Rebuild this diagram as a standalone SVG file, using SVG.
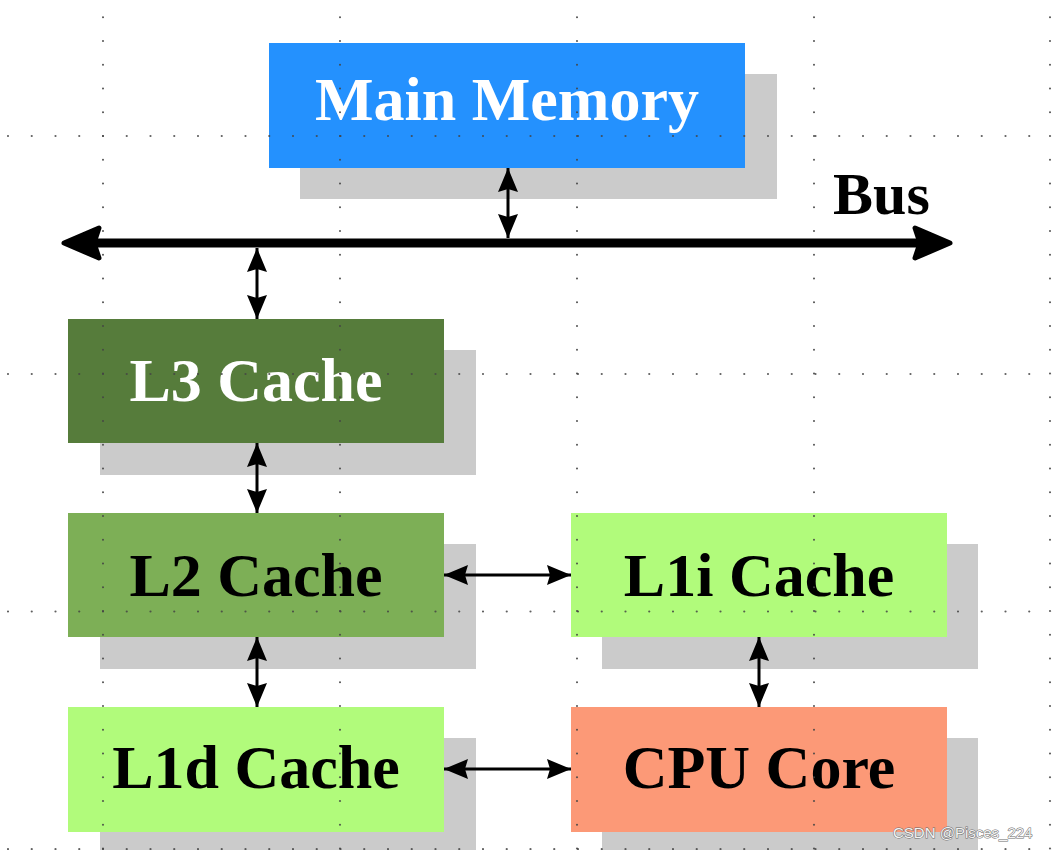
<svg xmlns="http://www.w3.org/2000/svg" width="1052" height="850" viewBox="0 0 1052 850">
  <style>
    .shadow { fill: #cbcbcb; }
    .label { font-family: "Liberation Serif", "Times New Roman", serif; font-weight: bold; font-size: 62px; text-anchor: middle; }
    .white { fill: #ffffff; }
    .black { fill: #000000; }
    .conn { stroke: #000; stroke-width: 3; fill: none; marker-start: url(#ah); marker-end: url(#ah); }
    .grid { stroke: #444444; stroke-width: 2.2; stroke-linecap: round; stroke-dasharray: 0 23.75; fill: none; opacity: 0.85; }
    .busHead { fill: #000; stroke: #000; stroke-width: 5; stroke-linejoin: round; }
  </style>
  <defs>
    <marker id="ah" viewBox="0 0 24 22" markerWidth="24" markerHeight="22" markerUnits="userSpaceOnUse" refX="24" refY="11" orient="auto-start-reverse">
      <path d="M0,1 L24,11 L0,21 L3,11 z" fill="#000"/>
    </marker>
  </defs>
  <rect width="1052" height="850" fill="#ffffff"/>

  <g id="main-memory">
    <rect class="shadow" x="300" y="74" width="477" height="125"/>
    <rect x="269" y="43" width="476" height="125" fill="#2491fe"/>
    <text class="label white" x="507" y="120">Main Memory</text>
  </g>

  <g id="bus">
    <line x1="92" y1="243" x2="922" y2="243" stroke="#000" stroke-width="9"/>
    <polygon class="busHead" points="64,243 99,228 94,243 99,258"/>
    <polygon class="busHead" points="950,243 915,228 920,243 915,258"/>
    <text x="833" y="214" font-family="'Liberation Serif', 'Times New Roman', serif" font-weight="bold" font-size="60" fill="#000">Bus</text>
  </g>

  <g id="l3-cache">
    <rect class="shadow" x="100" y="350" width="376" height="125"/>
    <rect x="68" y="319" width="376" height="124" fill="#567c3b"/>
    <text class="label white" x="256" y="401">L3 Cache</text>
  </g>

  <g id="l2-cache">
    <rect class="shadow" x="100" y="544" width="376" height="125"/>
    <rect x="68" y="513" width="376" height="124" fill="#7daf56"/>
    <text class="label black" x="256" y="596">L2 Cache</text>
  </g>

  <g id="l1d-cache">
    <rect class="shadow" x="100" y="738" width="376" height="125"/>
    <rect x="68" y="707" width="376" height="125" fill="#b1fb7b"/>
    <text class="label black" x="256" y="788">L1d Cache</text>
  </g>

  <g id="l1i-cache">
    <rect class="shadow" x="602" y="544" width="376" height="125"/>
    <rect x="571" y="513" width="376" height="124" fill="#b1fb7b"/>
    <text class="label black" x="759" y="596">L1i Cache</text>
  </g>

  <g id="cpu-core">
    <rect class="shadow" x="602" y="738" width="376" height="125"/>
    <rect x="571" y="707" width="376" height="125" fill="#fc9977"/>
    <text class="label black" x="759" y="788">CPU Core</text>
  </g>

  <g id="connectors">
    <line class="conn" x1="508" y1="168" x2="508" y2="238"/>
    <line class="conn" x1="257" y1="248" x2="257" y2="319"/>
    <line class="conn" x1="257" y1="443" x2="257" y2="513"/>
    <line class="conn" x1="257" y1="637" x2="257" y2="707"/>
    <line class="conn" x1="444" y1="575" x2="571" y2="575"/>
    <line class="conn" x1="444" y1="769" x2="571" y2="769"/>
    <line class="conn" x1="759" y1="637" x2="759" y2="707"/>
  </g>

  <g id="grid">
    <line class="grid" x1="103" y1="-6.5" x2="103" y2="860"/>
    <line class="grid" x1="340" y1="-6.5" x2="340" y2="860"/>
    <line class="grid" x1="577" y1="-6.5" x2="577" y2="860"/>
    <line class="grid" x1="814" y1="-6.5" x2="814" y2="860"/>
    <line class="grid" x1="1050" y1="-6.5" x2="1050" y2="860"/>
    <line class="grid" x1="-15.75" y1="136" x2="1060" y2="136"/>
    <line class="grid" x1="-15.75" y1="374" x2="1060" y2="374"/>
    <line class="grid" x1="-15.75" y1="611.5" x2="1060" y2="611.5"/>
    <line class="grid" x1="-15.75" y1="849" x2="1060" y2="849"/>
  </g>

  <g id="watermark">
    <text x="893" y="838" font-family="'Liberation Sans', Arial, sans-serif" font-size="15" fill="#f4f4f4" stroke="#6a6a6a" stroke-width="1" paint-order="stroke">CSDN @Pisces_224</text>
  </g>
</svg>
